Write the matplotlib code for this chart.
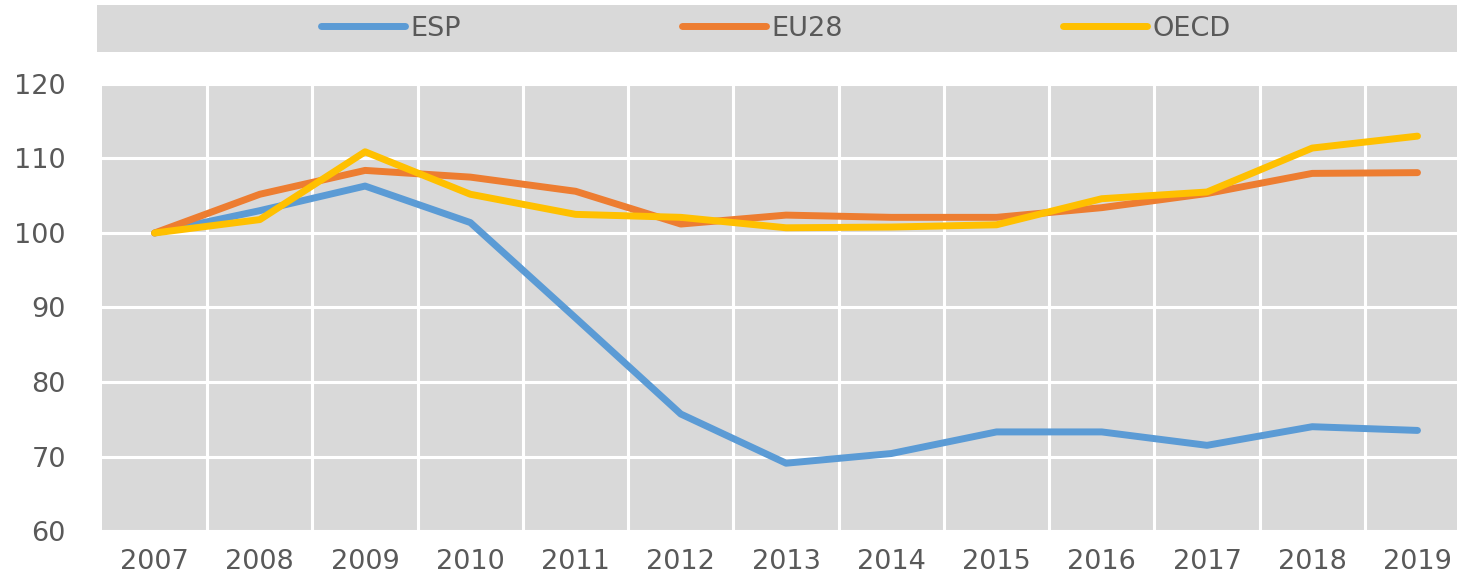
import matplotlib.pyplot as plt
import numpy as np

# === Données ===
years = ["2007", "2008", "2009", "2010", "2011", "2012", "2013",
         "2014", "2015", "2016", "2017", "2018", "2019"]
esp = [100, 103.0, 106.3, 101.4, 88.6, 75.7, 69.1, 70.4, 73.3, 73.3, 71.5, 74.0, 73.5]
eu28 = [100, 105.2, 108.4, 107.5, 105.6, 101.2, 102.4, 102.1, 102.1, 103.4, 105.3, 108.0, 108.1]
oecd = [100, 101.8, 110.9, 105.2, 102.5, 102.1, 100.7, 100.8, 101.1, 104.6, 105.5, 111.4, 113.0]
series_names = ["ESP", "EU28", "OECD"]
colors = ["#5B9BD5", "#ED7D31", "#FFC000"]

text_color = "#595959"
bg = "#D9D9D9"
plt.rcParams['font.family'] = ['DejaVu Sans']

fig = plt.figure(figsize=(14.57, 5.78), dpi=100)

# --- zone du graphique ---
ax = fig.add_axes([0.070, 0.0813, 0.939, 0.7734])
ax.set_facecolor(bg)
x = np.arange(len(years))
lines = []
for vals, name, c in zip([esp, eu28, oecd], series_names, colors):
    ln, = ax.plot(x, vals, color=c, lw=5, label=name,
                  solid_capstyle='round', solid_joinstyle='round', zorder=3)
    lines.append(ln)

ax.set_xlim(-0.5, len(years) - 0.5)
ax.set_ylim(60, 120)
ax.set_yticks(np.arange(60, 121, 10))
ax.set_xticks(x)
ax.set_xticklabels(years)
ax.set_xticks(x[:-1] + 0.5, minor=True)
ax.grid(True, which='major', axis='y', color='white', lw=2.2)
ax.grid(True, which='minor', axis='x', color='white', lw=2.2)
ax.set_axisbelow(True)
for s in ax.spines.values():
    s.set_visible(False)
ax.tick_params(which='both', length=0)
ax.tick_params(axis='y', pad=26, labelsize=19.5, labelcolor=text_color)
ax.tick_params(axis='x', pad=13, labelsize=19.5, labelcolor=text_color)

# --- bandeau de légende ---
lax = fig.add_axes([0.0666, 0.910, 0.95, 0.081])
lax.set_facecolor(bg)
lax.set_xticks([])
lax.set_yticks([])
for s in lax.spines.values():
    s.set_visible(False)
leg = lax.legend(handles=lines, loc='center left', bbox_to_anchor=(0.152, 0.5), ncol=3,
                 frameon=False, fontsize=19.5, handlelength=3.1, handletextpad=0.2,
                 columnspacing=8.15, borderpad=0, labelcolor=text_color)

fig.savefig("out.png", dpi=100)
